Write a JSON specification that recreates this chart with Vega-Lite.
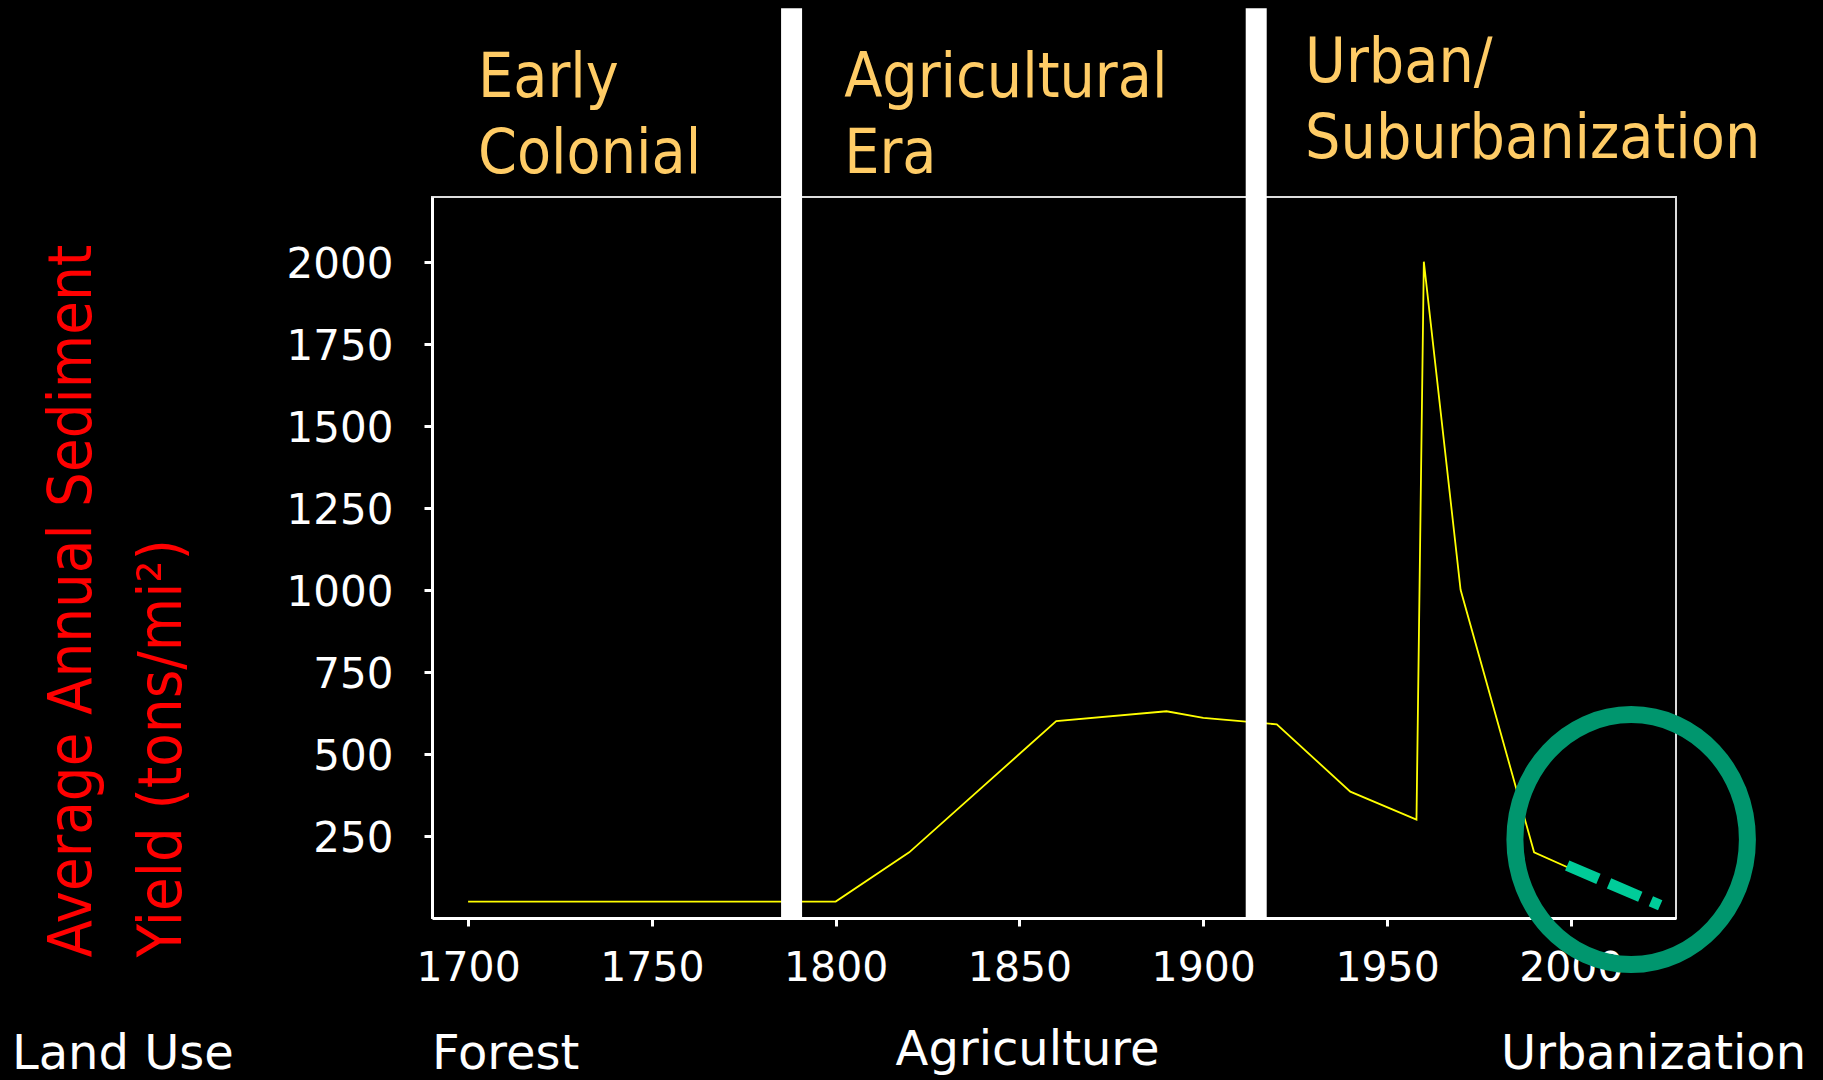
{
  "$schema": "https://vega.github.io/schema/vega-lite/v6.json",
  "width": 1244,
  "height": 721,
  "autosize": {"type": "none"},
  "padding": {"left": 432, "top": 197, "right": 147, "bottom": 162},
  "background": "black",
  "config": {"view": {"stroke": "#dddddd", "strokeWidth": 2}},
  "datasets": {
    "sediment": [
      {"year": 1700, "value": 50},
      {"year": 1800, "value": 50},
      {"year": 1820, "value": 200},
      {"year": 1860, "value": 600},
      {"year": 1890, "value": 630},
      {"year": 1900, "value": 610},
      {"year": 1920, "value": 590},
      {"year": 1940, "value": 385},
      {"year": 1958, "value": 300},
      {"year": 1960, "value": 2000},
      {"year": 1970, "value": 1000},
      {"year": 1990, "value": 200},
      {"year": 2000, "value": 150}
    ],
    "projection": [
      {"year": 1999, "value": 160},
      {"year": 2024.3, "value": 39}
    ],
    "eraBoundaries": [
      {"year": 1788},
      {"year": 1914.4}
    ],
    "highlight": [
      {"year": 2016.4, "value": 239}
    ],
    "eras": [
      {"label": "Early\nColonial", "year": 1702.7, "value": 2502},
      {"label": "Agricultural\nEra", "year": 1802.3, "value": 2502},
      {"label": "Urban/\nSuburbanization", "year": 1927.7, "value": 2548}
    ],
    "landUse": [
      {"label": "Land Use", "year": 1575.9, "value": -460},
      {"label": "Forest", "year": 1690.2, "value": -460},
      {"label": "Agriculture", "year": 1816.3, "value": -448},
      {"label": "Urbanization", "year": 1981.0, "value": -460}
    ]
  },
  "layer": [
    {
      "data": {"name": "sediment"},
      "mark": {"type": "line", "color": "#FFFF00", "strokeWidth": 1.8},
      "encoding": {
        "x": {
          "field": "year",
          "type": "quantitative",
          "scale": {"domain": [1690.18, 2028.6], "nice": false, "zero": false},
          "axis": {
            "values": [1700, 1750, 1800, 1850, 1900, 1950, 2000],
            "format": "d",
            "title": null,
            "grid": false,
            "labelFont": "DejaVu Sans",
            "labelFontSize": 41,
            "labelColor": "white",
            "labelPadding": 22,
            "labelFlush": false,
            "labelOverlap": false,
            "domainColor": "white",
            "domainWidth": 3,
            "tickColor": "white",
            "tickWidth": 3,
            "tickSize": 8
          }
        },
        "y": {
          "field": "value",
          "type": "quantitative",
          "scale": {"domain": [0, 2197], "nice": false, "zero": false},
          "axis": {
            "values": [250, 500, 750, 1000, 1250, 1500, 1750, 2000],
            "format": "d",
            "grid": false,
            "labelFont": "DejaVu Sans",
            "labelFontSize": 42,
            "labelColor": "white",
            "labelPadding": 31,
            "labelOffset": 3,
            "labelOverlap": false,
            "domainColor": "white",
            "domainWidth": 3,
            "tickColor": "white",
            "tickWidth": 3,
            "tickSize": 8,
            "title": ["Average Annual Sediment", "Yield (tons/mi²)"],
            "titleFont": "DejaVu Sans Condensed",
            "titleFontSize": 61,
            "titleFontWeight": "normal",
            "titleColor": "#FF0000",
            "titleAngle": 270,
            "titleAlign": "left",
            "titleBaseline": "alphabetic",
            "titleLineHeight": 90,
            "titleX": -342,
            "titleY": 760
          }
        }
      }
    },
    {
      "data": {"name": "projection"},
      "mark": {"type": "line", "color": "#00CC99", "strokeWidth": 11, "strokeDash": [34, 11.5], "strokeCap": "butt"},
      "encoding": {
        "x": {"field": "year", "type": "quantitative"},
        "y": {"field": "value", "type": "quantitative"}
      }
    },
    {
      "data": {"name": "eraBoundaries"},
      "mark": {"type": "rule", "color": "white", "strokeWidth": 21, "strokeCap": "butt", "opacity": 1},
      "encoding": {
        "x": {"field": "year", "type": "quantitative"},
        "y": {"datum": 0.5, "type": "quantitative"},
        "y2": {"datum": 2772}
      }
    },
    {
      "data": {"name": "highlight"},
      "mark": {
        "type": "point",
        "shape": "M -0.93 0 A 0.93 1 0 1 1 0.93 0 A 0.93 1 0 1 1 -0.93 0 Z",
        "size": 62500,
        "filled": false,
        "stroke": "#00966E",
        "strokeWidth": 17,
        "opacity": 1
      },
      "encoding": {
        "x": {"field": "year", "type": "quantitative"},
        "y": {"field": "value", "type": "quantitative"}
      }
    },
    {
      "data": {"name": "eras"},
      "mark": {
        "type": "text",
        "align": "left",
        "baseline": "alphabetic",
        "font": "DejaVu Sans Condensed",
        "fontSize": 62,
        "color": "#FFCC66",
        "lineBreak": "\n",
        "lineHeight": 76
      },
      "encoding": {
        "x": {"field": "year", "type": "quantitative"},
        "y": {"field": "value", "type": "quantitative"},
        "text": {"field": "label"}
      }
    },
    {
      "data": {"name": "landUse"},
      "mark": {
        "type": "text",
        "align": "left",
        "baseline": "alphabetic",
        "font": "DejaVu Sans",
        "fontSize": 48,
        "color": "white"
      },
      "encoding": {
        "x": {"field": "year", "type": "quantitative"},
        "y": {"field": "value", "type": "quantitative"},
        "text": {"field": "label"}
      }
    }
  ]
}
